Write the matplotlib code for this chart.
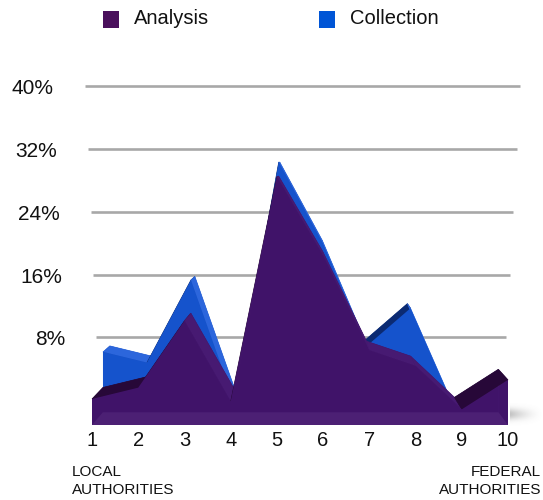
import numpy as np
import matplotlib
matplotlib.use("Agg")
import matplotlib.pyplot as plt
from matplotlib.patches import Polygon, Rectangle
from matplotlib.transforms import Affine2D, IdentityTransform

plt.rcParams['font.family'] = ['Liberation Sans', 'DejaVu Sans']

# ---- data -------------------------------------------------------------
points = [1, 2, 3, 4, 5, 6, 7, 8, 9, 10]
analysis = [3.0, 4.3, 12.0, 2.7, 28.6, 19.5, 8.6, 6.8, 1.8, 5.2]
collection = [7.3, 6.0, 16.0, 1.0, 30.3, 20.5, 8.0, 12.6, 0.5, 3.0]
y_ticks = [8, 16, 24, 32, 40]
y_tick_labels = ['8%', '16%', '24%', '32%', '40%']
series_names = ['Analysis', 'Collection']
end_labels = ['LOCAL\nAUTHORITIES', 'FEDERAL\nAUTHORITIES']

# ---- canvas -----------------------------------------------------------
W, H, DPI = 543, 500, 100
fig = plt.figure(figsize=(W / DPI, H / DPI), dpi=DPI)
ax = fig.add_axes([0, 0, 1, 1])
ax.set_axis_off()

# front plane: pixel of first category, spacing, baseline height, px per %
X0_PX, STEP_PX, BASE_PX, UNIT_PX = 92, 46.22, 75, 8.68
ax.set_xlim(1 - X0_PX / STEP_PX, 1 + (W - X0_PX) / STEP_PX)
ax.set_ylim(-BASE_PX / UNIT_PX, (H - BASE_PX) / UNIT_PX)
ax.set_autoscale_on(False)

# simple perspective: deeper planes shrink towards a vanishing point
VP = np.array([314.0, H - 166.0])
SHRINK = 0.9505
WALL_DEPTH = 2.0
IDENT = IdentityTransform()


def depth(d):
    s = SHRINK ** d
    return Affine2D().translate(-VP[0], -VP[1]).scale(s).translate(*VP)


def project(xs, ys, d):
    pts = ax.transData.transform(np.column_stack([xs, ys]))
    return depth(d).transform(pts)


# ---- back wall gridlines ----------------------------------------------
for v, lab in zip(y_ticks, y_tick_labels):
    y = project([1], [v], WALL_DEPTH)[0, 1]
    x_left = 85 + (40 - v) * 0.344
    x_right = 520 - (40 - v) * 0.4375
    ax.plot([x_left, x_right], [y, y], transform=IDENT, color='#a8a8a8',
            lw=1.9, solid_capstyle='butt', zorder=1, clip_on=False)
    ax.text(x_left - 31, y - 2.5, lab, transform=IDENT, ha='right',
            va='center', fontsize=15, color='#111111')


# ---- 3-D looking area series ------------------------------------------
def draw_area(values, d_front, d_back, face, back, top_up, top_down,
              face_alpha, z):
    xs = np.asarray(points, float)
    vs = np.asarray(values, float)
    ox = np.concatenate([xs, [xs[-1], xs[0]]])
    oy = np.concatenate([vs, [0.0, 0.0]])

    front = project(ox, oy, d_front)
    rear = project(ox, oy, d_back)

    ax.add_patch(Polygon(rear, closed=True, transform=IDENT, fc=back,
                         ec='none', zorder=z, clip_on=False))
    n = len(xs)
    # end caps
    for i in (0, n - 1):
        quad = [front[i], front[n if i == n - 1 else n + 1],
                rear[n if i == n - 1 else n + 1], rear[i]]
        ax.add_patch(Polygon(quad, closed=True, transform=IDENT, fc=top_up,
                             ec='none', zorder=z + 0.1, clip_on=False))
    # ridge surfaces
    for i in range(n - 1):
        quad = [front[i], front[i + 1], rear[i + 1], rear[i]]
        col = top_up if vs[i + 1] > vs[i] else top_down
        ax.add_patch(Polygon(quad, closed=True, transform=IDENT, fc=col,
                             ec=col, lw=0.5, zorder=z + 0.2, clip_on=False))
    ax.add_patch(Polygon(front, closed=True, transform=IDENT, fc=face,
                         ec='none', alpha=face_alpha, zorder=z + 0.3,
                         clip_on=False))
    return front


draw_area(collection, 1.0, 1.65, face='#1553cc', back='#0d3a9e',
          top_up='#0b2a72', top_down='#2c66dc', face_alpha=1.0, z=2)
front_a = draw_area(analysis, 0.0, 1.0, face='#42146c', back='#2a0946',
                    top_up='#270838', top_down='#471a72', face_alpha=0.95,
                    z=3)

# soft floor shadow to the right of the front series
x_end = front_a[len(points), 0]
y_end = front_a[len(points), 1]
sw, sh = 34, 26
tx = np.linspace(0, 1, sw)
ty = np.linspace(-1, 1, sh)
alpha = 0.42 * (1 - tx)[None, :] ** 1.6 * np.exp(-((ty[:, None] - 0.15) / 0.45) ** 2)
shadow = np.zeros((sh, sw, 4))
shadow[..., :3] = 0.45
shadow[..., 3] = alpha
fig.figimage(shadow, xo=int(x_end + 3), yo=int(y_end - 4), origin='lower',
             zorder=0)

# ---- category labels --------------------------------------------------
lab_y = (BASE_PX - 60) / -UNIT_PX
for p in points:
    ax.text(p, lab_y, str(p), ha='center', va='center', fontsize=14.5,
            color='#111111')

fig.text(72 / W, 1 - 481 / H, end_labels[0], ha='left', va='center',
         fontsize=11, linespacing=1.3, color='#111111')
fig.text(541 / W, 1 - 481 / H, end_labels[1], ha='right', va='center',
         fontsize=11, linespacing=1.3, color='#111111',
         multialignment='right')

# ---- legend -----------------------------------------------------------
legend_colors = ['#4a105c', '#0055d6']
legend_x = [103, 319]
for name, col, lx in zip(series_names, legend_colors, legend_x):
    fig.patches.append(Rectangle((lx, H - 28), 16, 17, transform=IDENT,
                                 fc=col, ec='none', figure=fig))
    fig.text((lx + 31) / W, 1 - 18.5 / H, name, ha='left', va='center',
             fontsize=14.5, color='#111111')

fig.savefig('out.png', dpi=DPI)
